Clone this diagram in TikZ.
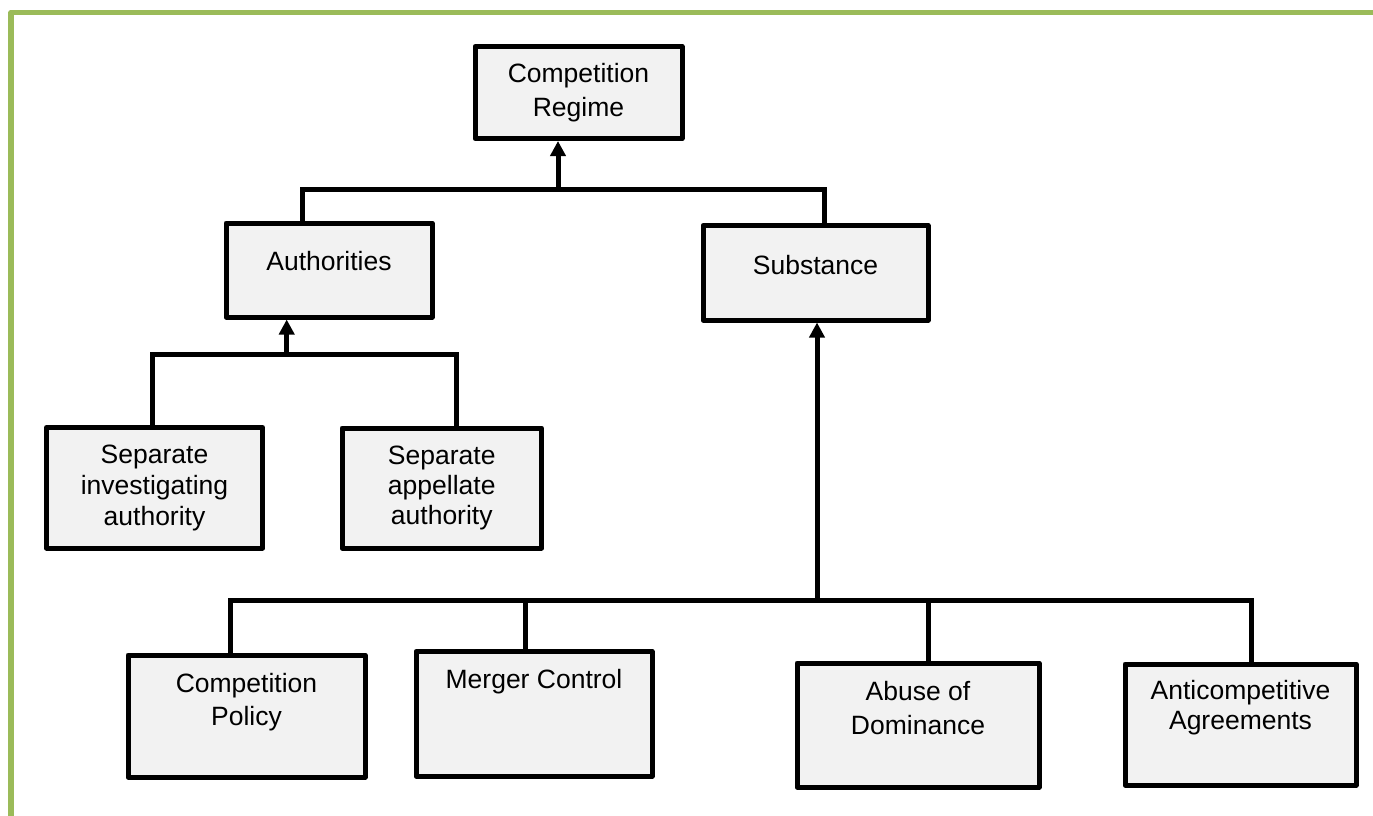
\documentclass[tikz,border=0pt]{standalone}
\usepackage{fontspec}
\setmainfont{Liberation Sans}
\usetikzlibrary{arrows.meta}
\definecolor{framegreen}{RGB}{155,187,89}
\definecolor{boxfill}{RGB}{242,242,242}
\tikzset{
  boxst/.style={draw=black, fill=boxfill, line width=5pt, inner sep=0pt, anchor=north west, line join=round},
  conn/.style={draw=black, line width=5pt, line join=miter},
  arrowconn/.style={conn, -{Triangle[length=15pt,width=15pt]}},
  frameline/.style={draw=framegreen, line width=5.5pt, line join=round}
}
% name, left, top, right, bottom, first baseline offset, line spacing, text
\newcommand\diabox[8]{%
  \pgfmathsetmacro\bw{#4-#2}%
  \pgfmathsetmacro\bh{#5-#3}%
  \node[boxst] (#1) at (#2,#3) {\parbox[t][\bh pt][t]{\bw pt}{\centering\fontsize{26.5}{#7}\selectfont\rule{0pt}{#6pt}#8}};%
}
\begin{document}
\begin{tikzpicture}[x=1pt,y=-1pt]
\useasboundingbox (0,0) rectangle (1373,816);
\draw[frameline] (11,816) -- (11,12.5) -- (1373,12.5);

\diabox{CR}{472.5}{44}{679.5}{136}{36}{34}{Competition\\Regime}
\diabox{AU}{223.5}{220.5}{429.5}{314.5}{47.5}{34}{Authorities}
\diabox{SU}{700.5}{223}{925.5}{317.5}{48.7}{34}{Substance}
\diabox{SI}{44}{425}{260}{545.5}{35.7}{31}{Separate\\investigating\\authority}
\diabox{SA}{339.5}{425.5}{539}{545.5}{36}{30}{Separate\\appellate\\authority}
\diabox{CP}{125.5}{652.5}{362.5}{774.5}{37.5}{33.3}{Competition\\Policy}
\diabox{MC}{413.5}{649}{649.5}{773.5}{37}{34}{Merger Control}
\diabox{AD}{794.5}{660.5}{1036.5}{784.5}{37.5}{34}{Abuse of\\Dominance}
\diabox{AA}{1122.5}{661.5}{1353.5}{782.5}{35.5}{30}{Anticompetitive\\Agreements}

% top level
\coordinate (tl) at (302.7,189.3);
\coordinate (tr) at (824,189.3);
\coordinate (tj) at (558,189.3);
\draw[conn] (AU.north -| tl) -- (tl) -- (tr) -- (SU.north -| tr);
\draw[arrowconn] (tj) -- (CR.south -| tj);

% authorities
\coordinate (al) at (152.7,354);
\coordinate (ar) at (456.7,354);
\coordinate (aj) at (286.7,354);
\draw[conn] (SI.north -| al) -- (al) -- (ar) -- (SA.north -| ar);
\draw[arrowconn] (aj) -- (AU.south -| aj);

% substance
\coordinate (bl) at (230,600.5);
\coordinate (br) at (1251,600.5);
\coordinate (bj) at (817,600.5);
\coordinate (bm1) at (525,600.5);
\coordinate (bm2) at (928,600.5);
\draw[conn] (CP.north -| bl) -- (bl) -- (br) -- (AA.north -| br);
\draw[conn] (bm1) -- (MC.north -| bm1);
\draw[conn] (bm2) -- (AD.north -| bm2);
\draw[arrowconn] (bj) -- (SU.south -| bj);
\end{tikzpicture}
\end{document}
